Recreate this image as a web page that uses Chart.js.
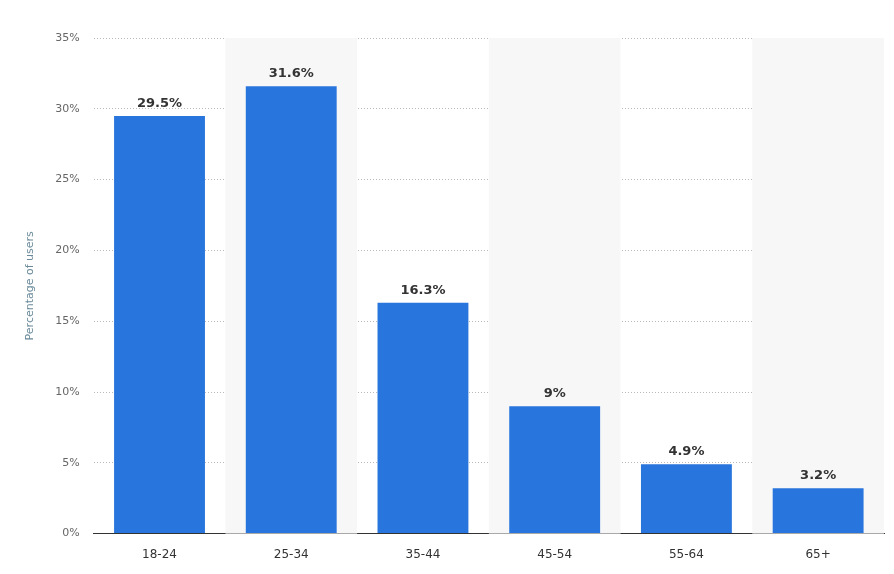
<!DOCTYPE html>
<html>
<head>
<meta charset="utf-8">
<script src="https://cdn.jsdelivr.net/npm/chart.js@4"></script>
<style>
  html, body { margin: 0; padding: 0; background: #fff; }
  #wrap { width: 894px; height: 574px; }
</style>
</head>
<body>
<div id="wrap"><canvas id="myChart"></canvas></div>
<script>
const categories = ['18-24', '25-34', '35-44', '45-54', '55-64', '65+'];
const shares = [29.5, 31.6, 16.3, 9, 4.9, 3.2];
const shareLabels = ['29.5%', '31.6%', '16.3%', '9%', '4.9%', '3.2%'];
const yTicks = [0, 5, 10, 15, 20, 25, 30, 35];

// grey bands behind every second category
const bands = {
  id: 'bands',
  beforeDatasetsDraw(chart) {
    const { ctx, chartArea, scales: { x } } = chart;
    const w = x.width / categories.length;
    ctx.save();
    ctx.fillStyle = '#f7f7f7';
    categories.forEach((c, i) => {
      if (i % 2 === 1) {
        ctx.fillRect(x.getPixelForValue(i) - w / 2, chartArea.top, w, chartArea.bottom - chartArea.top);
      }
    });
    ctx.restore();
  }
};

const valueLabels = {
  id: 'valueLabels',
  afterDatasetsDraw(chart) {
    const { ctx } = chart;
    const meta = chart.getDatasetMeta(0);
    ctx.save();
    ctx.font = 'bold 13px "DejaVu Sans"';
    ctx.fillStyle = '#333';
    ctx.textAlign = 'center';
    ctx.textBaseline = 'bottom';
    meta.data.forEach((bar, i) => {
      ctx.fillText(shareLabels[i], bar.x, bar.y - 6);
    });
    ctx.restore();
  }
};

new Chart(document.getElementById('myChart'), {
  type: 'bar',
  data: {
    labels: categories,
    datasets: [{
      data: shares,
      backgroundColor: '#2876dd',
      barPercentage: 0.69,
      categoryPercentage: 1
    }]
  },
  plugins: [bands, valueLabels],
  options: {
    responsive: true,
    maintainAspectRatio: false,
    animation: false,
    layout: { padding: { top: 38, right: 10, left: 20, bottom: 6 } },
    plugins: { legend: { display: false }, tooltip: { enabled: false } },
    scales: {
      x: {
        grid: { display: false },
        border: { color: '#333', width: 1 },
        ticks: { color: '#333', font: { family: 'DejaVu Sans', size: 12 }, padding: 6 }
      },
      y: {
        min: 0,
        max: 35,
        afterBuildTicks(axis) { axis.ticks = yTicks.map(v => ({ value: v })); },
        border: { display: false, dash: [1, 2] },
        grid: { color: '#bbb', drawTicks: false },
        ticks: {
          color: '#666',
          padding: 14,
          font: { family: 'DejaVu Sans', size: 11 },
          callback: v => v + '%'
        },
        title: {
          display: true,
          text: 'Percentage of users',
          color: '#6a8a9a',
          font: { family: 'DejaVu Sans', size: 11 },
          padding: 4
        }
      }
    }
  }
});
</script>
</body>
</html>
